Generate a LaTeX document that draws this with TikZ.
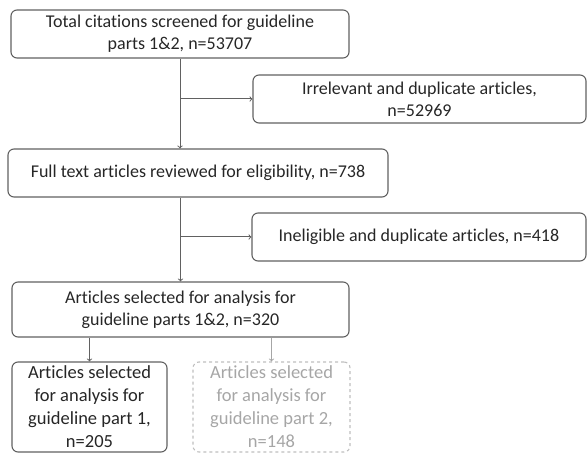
\documentclass[tikz,border=0pt]{standalone}
\usepackage{fontspec}
\setmainfont{Carlito}[RawFeature=-liga]
\begin{document}
\begin{tikzpicture}[x=1pt,y=-1pt,
  box/.style={draw=black!62,line width=1.1pt,rounded corners=6pt,align=center,
    inner sep=0pt,font=\fontsize{18}{22}\selectfont,text=black!85},
  small/.style={box,font=\fontsize{18.5}{23}\selectfont},
  faint/.style={small,draw=black!25,dashed,text=black!35},
  arr/.style={->,draw=black!62,line width=1pt,>=to}]
\useasboundingbox (0,0) rectangle (587,454);
\node [box,minimum width=338pt,minimum height=48pt] (total) at (180,34)
  {Total citations screened for guideline\\parts 1\&2, n=53707};
\node [box,minimum width=333pt,minimum height=48pt] (irrel) at (419.5,99)
  {Irrelevant and duplicate articles,\\n=52969};
\node [box,minimum width=380pt,minimum height=48pt] (full) at (198,173)
  {Full text articles reviewed for eligibility, n=738};
\node [box,minimum width=334pt,minimum height=48pt] (inelig) at (419,237)
  {Ineligible and duplicate articles, n=418};
\node [box,minimum width=337pt,minimum height=55pt] (sel) at (180.5,309.5)
  {Articles selected for analysis for\\guideline parts 1\&2, n=320};
\node [small,minimum width=155pt,minimum height=90pt] (partone) at (89.5,407)
  {Articles selected\\for analysis for\\guideline part 1,\\n=205};
\node [faint,minimum width=157pt,minimum height=90pt] (parttwo) at (271.5,407)
  {Articles selected\\for analysis for\\guideline part 2,\\n=148};
\draw [arr] (total.south) -- (total.south |- full.north);
\draw [arr] (total.south |- irrel.west) -- (irrel.west);
\draw [arr] (sel.north |- full.south) -- (sel.north);
\draw [arr] (sel.north |- inelig.west) -- (inelig.west);
\draw [arr] (partone.north |- sel.south) -- (partone.north);
\draw [arr,draw=black!35] (parttwo.north |- sel.south) -- (parttwo.north);
\end{tikzpicture}
\end{document}
